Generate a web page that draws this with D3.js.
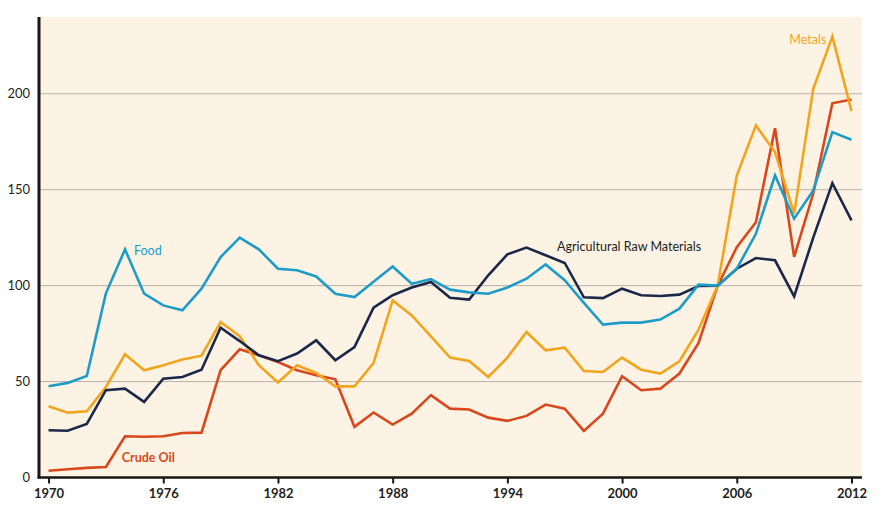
<!DOCTYPE html>
<html>
<head>
<meta charset="utf-8">
<script src="https://cdn.jsdelivr.net/npm/d3@7"></script>
<style>
  html, body { margin: 0; padding: 0; background: #ffffff; }
  svg { display: block; font-family: Lato, "Open Sans", sans-serif; }
</style>
</head>
<body>
<svg id="chart" width="892" height="510"></svg>
<script>
const years = d3.range(1970, 2013);
const food = [47.6, 49.3, 52.9, 96.0, 118.9, 95.8, 89.7, 87.1, 98.4, 114.9, 125.0, 118.9, 108.8, 108.0, 104.8, 95.8, 94.0, 102.0, 110.0, 101.0, 103.4, 97.9, 96.5, 95.8, 99.0, 103.6, 111.0, 102.8, 91.0, 79.7, 80.7, 80.7, 82.3, 88.0, 100.5, 100.0, 108.8, 127.0, 157.4, 134.9, 149.6, 180.0, 176.0];
const agri = [24.6, 24.4, 27.9, 45.5, 46.3, 39.4, 51.5, 52.4, 56.2, 78.1, 71.1, 63.7, 60.6, 64.6, 71.5, 61.1, 68.0, 88.5, 95.0, 99.0, 101.9, 93.7, 92.7, 105.4, 116.3, 119.8, 115.8, 111.8, 93.9, 93.5, 98.4, 95.0, 94.6, 95.3, 99.8, 100.0, 108.8, 114.4, 113.2, 94.4, 125.0, 153.4, 134.0];
const metals = [37.1, 33.8, 34.5, 47.2, 64.2, 55.9, 58.5, 61.5, 63.5, 81.0, 73.6, 58.5, 49.5, 58.5, 54.5, 47.5, 47.5, 59.7, 92.3, 84.5, 73.6, 62.5, 60.7, 52.4, 62.5, 75.8, 66.3, 67.7, 55.5, 55.0, 62.5, 56.2, 54.2, 60.6, 77.0, 100.0, 157.4, 183.5, 169.6, 137.5, 202.6, 229.8, 191.0];
const crude = [3.5, 4.3, 5.0, 5.5, 21.5, 21.2, 21.5, 23.2, 23.4, 55.9, 66.8, 63.7, 60.2, 55.9, 53.3, 51.2, 26.4, 33.9, 27.6, 33.3, 42.9, 35.9, 35.4, 31.2, 29.5, 32.1, 38.0, 35.9, 24.3, 33.3, 52.8, 45.5, 46.3, 54.2, 70.1, 100.0, 120.0, 133.0, 182.0, 115.0, 148.0, 195.0, 197.0];
const xTicks = [1970, 1976, 1982, 1988, 1994, 2000, 2006, 2012];
const yTicks = [0, 50, 100, 150, 200];

const seriesNames = ["Food", "Agricultural Raw Materials", "Metals", "Crude Oil"];
const seriesValues = [food, agri, metals, crude];
const seriesColors = ["#1d9cc8", "#1b2849", "#f2a51c", "#d9481c"];

const svg = d3.select("#chart");
const pL = 39, pR = 862, pT = 17, pB = 477.5;

const x = d3.scaleLinear().domain([1969.5, 2012.55]).range([pL, pR]);
const y = d3.scaleLinear().domain([0, 240]).range([pB, pT]);

svg.append("rect")
  .attr("x", pL).attr("y", pT)
  .attr("width", pR - pL).attr("height", pB - pT)
  .attr("fill", "#fdf3e4");

// gridlines
svg.append("g").selectAll("line")
  .data(yTicks.filter(d => d > 0))
  .join("line")
  .attr("x1", pL).attr("x2", pR)
  .attr("y1", d => y(d)).attr("y2", d => y(d))
  .attr("stroke", "#b9b2aa").attr("stroke-width", 1);

// lines
const line = d3.line().x((d, i) => x(years[i])).y(d => y(d));
const drawOrder = [3, 2, 1, 0];
svg.append("g").selectAll("path")
  .data(drawOrder)
  .join("path")
  .attr("d", k => line(seriesValues[k]))
  .attr("fill", "none")
  .attr("stroke", k => seriesColors[k])
  .attr("stroke-width", 2.6)
  .attr("stroke-linejoin", "miter");

// y axis
const yAxis = d3.axisLeft(y).tickValues(yTicks).tickSize(0).tickPadding(9).tickFormat(d3.format("d"));
const gy = svg.append("g").attr("transform", `translate(${pL},0)`).call(yAxis);
gy.select(".domain").remove();
gy.selectAll("text").attr("font-size", 13).attr("fill", "#231f20").attr("font-family", "Lato, sans-serif");

svg.append("line")
  .attr("x1", pL).attr("x2", pL)
  .attr("y1", pT).attr("y2", pB + 1)
  .attr("stroke", "#1a1613").attr("stroke-width", 3);

// x axis
const xAxis = d3.axisBottom(x).tickValues(xTicks).tickSize(6).tickPadding(5).tickFormat(d3.format("d"));
const gx = svg.append("g").attr("transform", `translate(0,${pB})`).call(xAxis);
gx.select(".domain").remove();
gx.selectAll(".tick line").attr("stroke", "#1a1613").attr("stroke-width", 2);
gx.selectAll("text").attr("font-size", 13).attr("font-weight", "bold").attr("fill", "#231f20").attr("font-family", "Lato, sans-serif");

svg.append("line")
  .attr("x1", pL - 1.5).attr("x2", pR)
  .attr("y1", pB).attr("y2", pB)
  .attr("stroke", "#1a1613").attr("stroke-width", 2.5);

// labels
const labels = [
  { k: 0, xv: 1974.47, yv: 116.2, anchor: "start", weight: "normal" },
  { k: 3, xv: 1973.83, yv: 8.2, anchor: "start", weight: "bold" },
  { k: 1, xv: 1996.6, yv: 118.2, anchor: "start", weight: "normal" },
  { k: 2, xv: 2008.75, yv: 225.9, anchor: "start", weight: "normal" }
];
svg.append("g").selectAll("text")
  .data(labels)
  .join("text")
  .attr("x", d => x(d.xv))
  .attr("y", d => y(d.yv))
  .attr("text-anchor", d => d.anchor)
  .attr("font-size", 12.5)
  .attr("font-weight", d => d.weight)
  .attr("fill", d => d.k === 1 ? "#231f20" : seriesColors[d.k])
  .text(d => seriesNames[d.k]);
</script>
</body>
</html>
